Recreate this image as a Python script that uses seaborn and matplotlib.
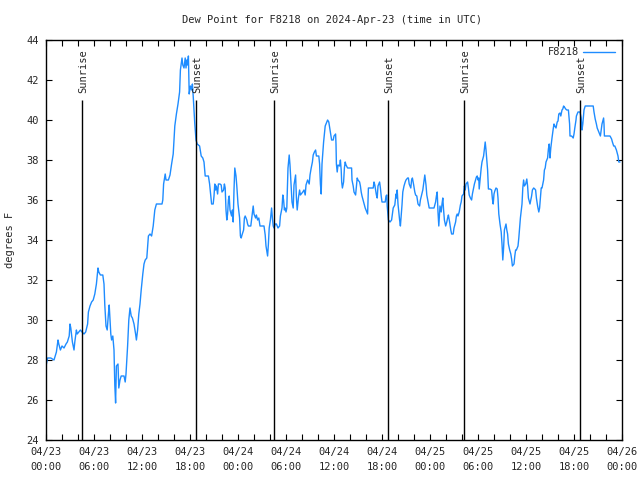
import matplotlib
matplotlib.use("Agg")
import matplotlib.pyplot as plt
import seaborn as sns
import pandas as pd

# ---- data (hours since 2024-04-23 00:00 UTC, dew point in F) ----
hours = [
    0.0, 0.2, 0.6, 1.0, 1.3, 1.5, 1.6, 1.8, 2.0, 2.25, 2.5, 2.67, 2.9, 3.0, 3.1, 3.3, 3.5, 3.6, 3.8, 3.9,
    4.1, 4.3, 4.5, 4.75, 4.96, 5.2, 5.3, 5.5, 5.7, 5.9, 6.1, 6.3, 6.5, 6.6, 6.8, 7.1, 7.25, 7.35, 7.5, 7.65,
    7.8, 7.9, 8.1, 8.2, 8.35, 8.5, 8.6, 8.7, 8.8, 9.0, 9.1, 9.25, 9.4, 9.75, 9.9, 10.0, 10.2, 10.35, 10.5, 10.65,
    10.8, 11.0, 11.2, 11.3, 11.45, 11.6, 11.75, 11.9, 12.1, 12.25, 12.4, 12.6, 12.8, 13.0, 13.2, 13.4, 13.6, 13.8, 14.0, 14.5,
    14.6, 14.7, 14.9, 15.0, 15.3, 15.5, 15.7, 15.9, 16.0, 16.1, 16.3, 16.5, 16.7, 16.8, 17.0, 17.1, 17.25, 17.4, 17.5, 17.6,
    17.7, 17.8, 17.9, 18.05, 18.2, 18.3, 18.4, 18.6, 18.75, 18.9, 19.2, 19.4, 19.6, 19.75, 19.9, 20.3, 20.45, 20.6, 20.7, 20.9,
    21.0, 21.1, 21.2, 21.3, 21.45, 21.55, 21.75, 21.9, 22.0, 22.2, 22.3, 22.4, 22.5, 22.6, 22.7, 22.8, 22.9, 23.0, 23.2, 23.3,
    23.4, 23.5, 23.6, 23.75, 23.85, 24.0, 24.2, 24.3, 24.4, 24.5, 24.7, 24.8, 24.9, 25.1, 25.2, 25.3, 25.6, 25.75, 25.9, 26.0,
    26.2, 26.3, 26.45, 26.6, 26.75, 27.1, 27.25, 27.4, 27.5, 27.7, 27.8, 27.9, 28.05, 28.2, 28.3, 28.4, 28.5, 28.65, 28.8, 29.0,
    29.2, 29.3, 29.5, 29.6, 29.7, 29.8, 29.9, 30.0, 30.1, 30.25, 30.4, 30.5, 30.6, 30.75, 30.9, 31.0, 31.2, 31.3, 31.4, 31.55,
    31.7, 31.8, 31.9, 32.1, 32.25, 32.4, 32.5, 32.7, 32.8, 32.9, 33.0, 33.15, 33.3, 33.4, 33.55, 33.7, 33.8, 34.1, 34.2, 34.3,
    34.4, 34.5, 34.7, 34.8, 34.9, 35.1, 35.2, 35.35, 35.5, 35.6, 35.7, 35.9, 36.0, 36.2, 36.25, 36.3, 36.4, 36.5, 36.7, 36.8,
    36.9, 36.96, 37.05, 37.2, 37.3, 37.4, 37.5, 37.7, 38.2, 38.25, 38.4, 38.5, 38.7, 38.8, 38.9, 39.0, 39.2, 39.3, 39.4, 39.5,
    39.7, 39.8, 39.9, 40.0, 40.2, 40.25, 40.3, 40.9, 41.0, 41.1, 41.3, 41.4, 41.5, 41.7, 41.8, 41.9, 42.0, 42.4, 42.5, 42.6,
    42.65, 42.8, 43.0, 43.2, 43.4, 43.6, 43.75, 43.8, 43.9, 44.0, 44.2, 44.3, 44.4, 44.5, 44.6, 44.75, 44.9, 45.0, 45.2, 45.3,
    45.4, 45.6, 45.7, 45.8, 45.96, 46.1, 46.2, 46.35, 46.5, 46.6, 46.7, 46.8, 46.95, 47.1, 47.2, 47.3, 47.35, 47.5, 47.6, 47.8,
    47.9, 48.5, 48.7, 48.8, 48.9, 49.0, 49.1, 49.25, 49.4, 49.5, 49.6, 49.7, 49.8, 49.96, 50.1, 50.2, 50.3, 50.45, 50.6, 50.7,
    50.9, 51.0, 51.2, 51.3, 51.4, 51.5, 51.65, 51.8, 51.9, 52.0, 52.2, 52.3, 52.4, 52.5, 52.7, 52.8, 52.9, 53.05, 53.2, 53.3,
    53.4, 53.55, 53.7, 53.8, 53.9, 54.0, 54.1, 54.15, 54.3, 54.4, 54.5, 54.7, 54.8, 54.9, 55.0, 55.2, 55.3, 55.5, 55.7, 55.8,
    55.9, 56.0, 56.1, 56.25, 56.4, 56.5, 56.6, 56.75, 56.9, 57.0, 57.1, 57.2, 57.3, 57.5, 57.6, 57.7, 57.8, 57.96, 58.1, 58.2,
    58.3, 58.5, 58.6, 58.7, 58.8, 59.0, 59.1, 59.2, 59.3, 59.5, 59.6, 59.7, 59.8, 59.96, 60.1, 60.2, 60.3, 60.5, 60.6, 60.7,
    60.8, 60.96, 61.1, 61.2, 61.3, 61.45, 61.6, 61.7, 61.8, 61.9, 62.0, 62.2, 62.3, 62.4, 62.5, 62.7, 62.8, 62.9, 63.0, 63.1,
    63.25, 63.4, 63.5, 63.6, 63.75, 63.9, 64.0, 64.1, 64.25, 64.35, 64.5, 64.6, 64.7, 64.8, 64.96, 65.1, 65.3, 65.45, 65.5, 65.7,
    65.9, 66.0, 66.1, 66.25, 66.3, 66.5, 66.75, 66.9, 67.0, 67.1, 67.25, 67.4, 68.4, 68.5, 68.65, 68.8, 68.9, 69.0, 69.2, 69.3,
    69.4, 69.5, 69.7, 69.75, 69.8, 70.5, 70.7, 70.8, 70.96, 71.1, 71.2, 71.3, 71.5, 71.6, 71.75,
]
dewpoint_f = [
    27.7, 28.1, 28.1, 28.0, 28.4, 29.0, 28.8, 28.5, 28.7, 28.6, 28.8, 28.9, 29.2, 29.8, 29.6, 28.9, 28.5, 28.9, 29.5, 29.3,
    29.4, 29.5, 29.4, 29.3, 29.4, 29.8, 30.4, 30.7, 30.9, 31.0, 31.3, 31.8, 32.6, 32.4, 32.25, 32.25, 31.8, 30.75, 29.7, 29.5,
    30.3, 30.75, 29.3, 29.0, 29.2, 28.5, 26.75, 25.85, 27.7, 27.8, 26.6, 27.0, 27.2, 27.2, 26.9, 27.3, 28.7, 30.0, 30.6, 30.2,
    30.1, 29.8, 29.3, 29.0, 29.5, 30.3, 30.8, 31.5, 32.3, 32.8, 33.0, 33.1, 34.2, 34.3, 34.2, 34.7, 35.5, 35.8, 35.8, 35.8,
    36.0, 36.8, 37.3, 37.0, 37.0, 37.25, 37.8, 38.3, 39.0, 39.7, 40.3, 40.8, 41.4, 42.5, 43.1, 42.75, 42.6, 43.1, 42.6, 43.0,
    42.75, 43.2, 41.3, 41.7, 41.5, 41.8, 41.2, 39.8, 39.0, 38.8, 38.7, 38.2, 38.1, 37.9, 37.2, 37.2, 36.8, 36.2, 35.8, 35.8,
    36.2, 36.8, 36.5, 36.7, 36.3, 36.8, 36.8, 36.75, 36.4, 36.5, 36.8, 36.6, 35.5, 35.0, 35.3, 36.0, 36.2, 35.5, 35.2, 35.5,
    34.9, 36.5, 37.6, 37.2, 36.7, 35.8, 35.1, 34.2, 34.1, 34.25, 34.5, 35.1, 35.2, 35.0, 34.8, 34.7, 34.7, 35.2, 35.7, 35.3,
    35.1, 35.25, 35.0, 35.1, 34.7, 34.7, 34.7, 34.25, 33.7, 33.2, 33.8, 34.6, 35.0, 35.6, 35.1, 34.7, 34.6, 34.8, 34.8, 34.6,
    34.7, 35.2, 35.6, 36.25, 36.0, 35.5, 35.6, 35.4, 35.6, 37.6, 38.25, 37.75, 37.0, 35.9, 35.6, 36.75, 37.25, 36.1, 35.5, 36.1,
    36.5, 36.25, 36.3, 36.4, 36.5, 36.25, 36.75, 37.0, 36.9, 36.8, 37.25, 37.6, 37.9, 38.25, 38.4, 38.5, 38.2, 38.2, 37.8, 36.8,
    36.3, 37.8, 38.9, 39.3, 39.7, 39.9, 40.0, 39.9, 39.5, 39.25, 39.0, 39.0, 39.2, 39.3, 38.8, 37.8, 37.4, 37.75, 37.7, 38.0,
    37.5, 36.9, 36.6, 36.9, 37.6, 37.9, 37.75, 37.6, 37.6, 37.0, 36.7, 36.4, 36.25, 36.7, 37.1, 37.0, 36.9, 36.7, 36.4, 36.2,
    35.9, 35.75, 35.6, 35.5, 35.3, 36.0, 36.6, 36.6, 36.9, 36.75, 36.25, 36.1, 36.7, 36.9, 36.6, 36.2, 35.9, 35.9, 36.2, 36.25,
    35.7, 35.0, 34.9, 35.0, 35.6, 35.75, 36.3, 36.1, 36.5, 35.8, 35.0, 34.7, 35.2, 35.75, 36.4, 36.7, 36.9, 37.0, 37.1, 37.1,
    36.8, 36.6, 37.0, 37.1, 36.75, 36.4, 36.25, 36.2, 35.8, 35.75, 35.7, 36.0, 36.25, 36.5, 36.8, 37.1, 37.25, 36.75, 36.25, 35.8,
    35.6, 35.6, 35.9, 36.2, 36.4, 35.4, 34.7, 35.7, 35.4, 35.8, 36.1, 35.5, 35.0, 34.7, 34.9, 35.1, 35.25, 34.9, 34.5, 34.3,
    34.3, 34.6, 34.9, 35.2, 35.3, 35.2, 35.4, 35.75, 35.9, 36.2, 36.3, 36.7, 36.5, 36.8, 36.9, 36.6, 36.25, 36.1, 36.0, 36.3,
    36.5, 36.8, 37.0, 37.15, 37.2, 37.0, 37.1, 36.55, 37.2, 37.6, 37.9, 38.2, 38.55, 38.9, 38.5, 37.5, 36.55, 36.55, 36.5, 36.05,
    35.8, 36.3, 36.45, 36.6, 36.55, 36.1, 35.3, 34.8, 34.4, 33.8, 33.0, 33.6, 34.5, 34.8, 34.5, 34.3, 33.8, 33.5, 33.3, 33.05,
    32.7, 32.8, 33.2, 33.5, 33.5, 33.7, 34.1, 34.6, 35.1, 35.8, 36.6, 37.0, 36.7, 36.8, 37.05, 36.7, 36.1, 35.8, 36.0, 36.2,
    36.5, 36.6, 36.55, 36.5, 36.1, 35.7, 35.4, 35.6, 36.1, 36.6, 36.6, 37.0, 37.5, 37.6, 37.9, 38.1, 38.55, 38.8, 38.1, 38.6,
    39.1, 39.55, 39.8, 39.7, 39.6, 39.9, 39.95, 40.3, 40.35, 40.2, 40.5, 40.55, 40.7, 40.65, 40.55, 40.5, 40.5, 39.8, 39.2, 39.2,
    39.1, 39.3, 39.6, 40.0, 40.2, 40.4, 40.4, 40.1, 39.5, 39.8, 40.5, 40.7, 40.7, 40.4, 40.05, 39.8, 39.6, 39.5, 39.3, 39.2,
    39.5, 39.8, 40.1, 39.8, 39.2, 39.2, 39.05, 38.9, 38.7, 38.7, 38.6, 38.5, 38.2, 37.9, 37.9,
]
station = "F8218"

sun_hours = [4.5, 18.75, 28.5, 42.75, 52.3, 66.8]
sun_labels = ["Sunrise", "Sunset", "Sunrise", "Sunset", "Sunrise", "Sunset"]

xtick_hours = [0, 6, 12, 18, 24, 30, 36, 42, 48, 54, 60, 66, 72]
xtick_labels = ["04/23\n00:00", "04/23\n06:00", "04/23\n12:00", "04/23\n18:00",
                "04/24\n00:00", "04/24\n06:00", "04/24\n12:00", "04/24\n18:00",
                "04/25\n00:00", "04/25\n06:00", "04/25\n12:00", "04/25\n18:00",
                "04/26\n00:00"]
ytick_values = [24, 26, 28, 30, 32, 34, 36, 38, 40, 42, 44]

title = "Dew Point for F8218 on 2024-Apr-23 (time in UTC)"
ylabel = "degrees F"

# ---- plot ----
sns.set_style("white")
plt.rcParams["font.family"] = ["DejaVu Sans Mono"]
plt.rcParams["font.size"] = 7.5

df = pd.DataFrame({"hours": hours, "dew": dewpoint_f})

fig = plt.figure(figsize=(6.4, 4.8), dpi=100)
ax = fig.add_axes([46 / 640, 1 - 440 / 480, 576 / 640, 400 / 480])

sns.lineplot(data=df, x="hours", y="dew", ax=ax, color="#1e8cff", linewidth=1.0,
             estimator=None, sort=False, label=station)

for h, lab in zip(sun_hours, sun_labels):
    ax.vlines(h, 24, 41, color="black", linewidth=1.0)
    ax.text(h + 0.15, 41.35, lab, rotation=90, ha="center", va="bottom", fontsize=7.5)

ax.set_xlim(0, 72)
ax.set_ylim(24, 44)
ax.set_xticks(xtick_hours)
ax.set_xticklabels(xtick_labels, linespacing=1.6)
ax.set_xticks(range(0, 73, 2), minor=True)
ax.set_yticks(ytick_values)
ax.set_yticklabels([str(v) for v in ytick_values])
ax.tick_params(axis="both", which="both", direction="in", top=True, right=True,
               bottom=True, left=True, length=4, width=0.8, color="black", labelsize=7.5)
ax.tick_params(axis="x", which="major", pad=5)
ax.tick_params(axis="y", which="major", pad=5)
for s in ax.spines.values():
    s.set_visible(True)
    s.set_color("black")
    s.set_linewidth(1.0)

ax.set_xlabel("")
ax.set_ylabel(ylabel, fontsize=7.5, labelpad=8)
fig.text(332 / 640, 1 - 20 / 480, title, ha="center", va="center", fontsize=7.5)

leg = ax.legend(loc="upper right", frameon=False, markerfirst=False, handlelength=3.0,
                borderaxespad=0.3, fontsize=7.5, handletextpad=0.4)

fig.savefig("out.png", dpi=100)
